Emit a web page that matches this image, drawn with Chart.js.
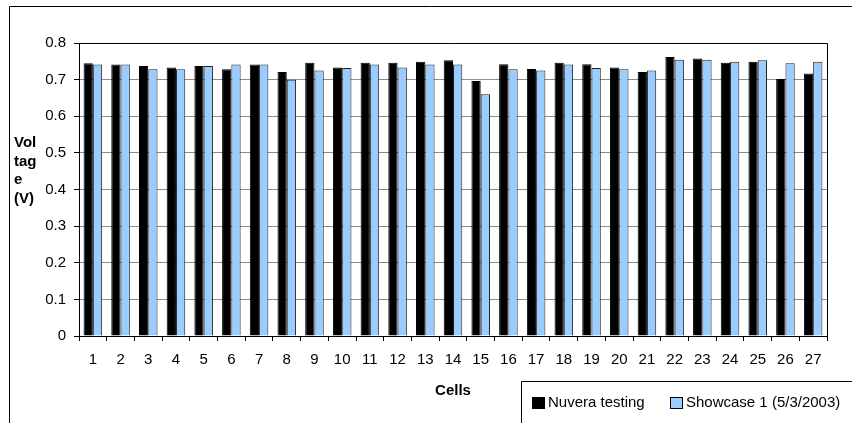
<!DOCTYPE html>
<html>
<head>
<meta charset="utf-8">
<script src="https://cdn.jsdelivr.net/npm/chart.js@4.4.1/dist/chart.umd.min.js"></script>
<style>
  html, body { margin: 0; padding: 0; background: #fff; }
  #wrap { width: 852px; height: 423px; position: relative; }
</style>
</head>
<body>
<div id="wrap"><canvas id="c" width="852" height="423"></canvas></div>
<script>
// Cell numbers along the x axis
const cells = ['1','2','3','4','5','6','7','8','9','10','11','12','13','14','15','16','17','18','19','20','21','22','23','24','25','26','27'];

// Cell voltages (V)
const nuveraTesting = [0.745, 0.741, 0.737, 0.733, 0.737, 0.728, 0.741, 0.721, 0.746, 0.733, 0.746, 0.746, 0.749, 0.753, 0.696, 0.742, 0.729, 0.746, 0.742, 0.733, 0.721, 0.762, 0.758, 0.746, 0.749, 0.702, 0.717];
const showcase1 = [0.741, 0.741, 0.728, 0.728, 0.737, 0.741, 0.741, 0.700, 0.725, 0.732, 0.741, 0.733, 0.741, 0.741, 0.660, 0.728, 0.725, 0.741, 0.732, 0.728, 0.725, 0.754, 0.754, 0.749, 0.753, 0.745, 0.749];

const seriesNames = ['Nuvera testing', 'Showcase 1 (5/3/2003)'];
const yTitleLines = ['Vol', 'tag', 'e', '(V)'];
const xTitle = 'Cells';

const FONT = 'Arial, "Liberation Sans", Helvetica, sans-serif';
const FONT_SIZE = 15;
const BLACK = '#000000';
const BLUE = '#99CCFF';

// Frame, axis titles, plot border and the boxed legend
const decorations = {
  id: 'decorations',
  afterDraw(chart) {
    const ctx = chart.ctx;
    const a = chart.chartArea;
    ctx.save();

    // outer frame
    ctx.strokeStyle = '#000';
    ctx.lineWidth = 1;
    ctx.beginPath();
    ctx.moveTo(9.5, 423);
    ctx.lineTo(9.5, 6.5);
    ctx.lineTo(852, 6.5);
    ctx.stroke();

    // plot area border (top and right)
    ctx.beginPath();
    ctx.moveTo(Math.round(a.left) + 0.5, Math.round(a.top) + 0.5);
    ctx.lineTo(Math.round(a.right) + 0.5, Math.round(a.top) + 0.5);
    ctx.lineTo(Math.round(a.right) + 0.5, Math.round(a.bottom) + 0.5);
    ctx.stroke();

    // y axis title, wrapped
    ctx.fillStyle = '#000';
    ctx.font = 'bold ' + FONT_SIZE + 'px ' + FONT;
    ctx.textAlign = 'left';
    ctx.textBaseline = 'alphabetic';
    const baselines = [147, 166, 184, 203];
    yTitleLines.forEach((t, i) => ctx.fillText(t, 14, baselines[i]));

    // x axis title
    ctx.textAlign = 'center';
    ctx.textBaseline = 'middle';
    ctx.fillText(xTitle, (a.left + a.right) / 2, 391);

    // legend box
    ctx.beginPath();
    ctx.moveTo(852, 381.5);
    ctx.lineTo(521.5, 381.5);
    ctx.lineTo(521.5, 423);
    ctx.stroke();

    ctx.font = FONT_SIZE + 'px ' + FONT;
    ctx.textAlign = 'left';
    ctx.textBaseline = 'middle';
    const ly = 403;
    const items = [
      { x: 532, color: BLACK, label: seriesNames[0] },
      { x: 670, color: BLUE, label: seriesNames[1] }
    ];
    items.forEach(it => {
      ctx.fillStyle = it.color;
      ctx.fillRect(it.x + 0.5, ly - 5.5, 12, 11);
      ctx.strokeStyle = '#000';
      ctx.strokeRect(it.x + 0.5, ly - 5.5, 12, 11);
      ctx.fillStyle = '#000';
      ctx.fillText(it.label, it.x + 16, ly);
    });

    ctx.restore();
  }
};

new Chart(document.getElementById('c'), {
  type: 'bar',
  data: {
    labels: cells,
    datasets: [
      {
        label: seriesNames[0],
        data: nuveraTesting,
        backgroundColor: BLACK,
        borderColor: '#000',
        borderWidth: 1
      },
      {
        label: seriesNames[1],
        data: showcase1,
        backgroundColor: BLUE,
        borderColor: '#222',
        borderWidth: 1
      }
    ]
  },
  options: {
    responsive: false,
    animation: false,
    devicePixelRatio: 1,
    layout: { padding: { left: 0, top: 43, right: 25, bottom: 0 } },
    datasets: {
      bar: { categoryPercentage: 0.67, barPercentage: 1.0 }
    },
    plugins: {
      legend: { display: false },
      tooltip: { enabled: false }
    },
    scales: {
      x: {
        offset: true,
        grid: {
          offset: true,
          drawOnChartArea: false,
          drawTicks: true,
          tickLength: 5,
          tickColor: '#000'
        },
        border: { display: true, color: '#000', width: 1 },
        ticks: {
          color: '#000',
          font: { family: FONT, size: FONT_SIZE },
          padding: 10,
          maxRotation: 0,
          autoSkip: false
        },
        afterFit(scale) { scale.height = 87; }
      },
      y: {
        min: 0,
        max: 0.8,
        ticks: {
          stepSize: 0.1,
          color: '#000',
          font: { family: FONT, size: FONT_SIZE },
          padding: 8,
          callback: v => (Math.round(v * 10) / 10).toString()
        },
        grid: {
          color: '#8c8c8c',
          lineWidth: 1,
          tickLength: 5,
          tickColor: '#000'
        },
        border: { display: true, color: '#000', width: 1 },
        afterFit(scale) { scale.width = 79; }
      }
    }
  },
  plugins: [decorations]
});
</script>
</body>
</html>
